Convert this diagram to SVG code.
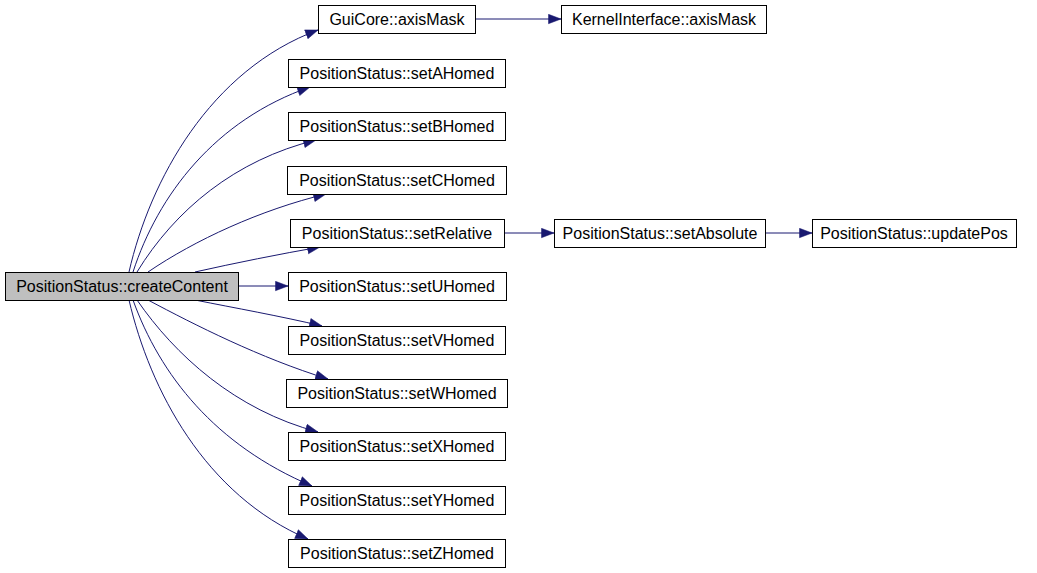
<svg xmlns="http://www.w3.org/2000/svg" width="1037" height="573" viewBox="0 0 1037 573">
<defs>
<marker id="arr" markerWidth="14" markerHeight="11" refX="13" refY="5.5" orient="auto" markerUnits="userSpaceOnUse">
<path d="M0.5,0.8 L13,5.5 L0.5,10.2 z" fill="#191970" stroke="#191970" stroke-width="0.5"/>
</marker>
<style>
.n rect{fill:#ffffff;stroke:#000000;stroke-width:1}
.n text{font-family:"Liberation Sans",Arial,sans-serif;font-size:16px;fill:#000000;text-anchor:middle}
.e path{fill:none;stroke:#191970;stroke-width:1;marker-end:url(#arr)}
</style>
</defs>
<rect width="1037" height="573" fill="#ffffff"/>
<g class="e" id="connectors">
<path d="M129,272 C150,180 210,70 318,30"/>
<path d="M133,272 C158,195 215,120 310,87"/>
<path d="M137,272 C175,210 235,160 316,140"/>
<path d="M148,272 C195,240 260,210 326,194"/>
<path d="M195,272 C235,263 280,254 320,247"/>
<path d="M239,286 L288,286"/>
<path d="M195,300 C235,308 280,316 322,326"/>
<path d="M148,300 C195,325 260,358 328,379"/>
<path d="M137,300 C175,355 235,410 318,432"/>
<path d="M133,300 C160,375 215,445 312,486"/>
<path d="M129,300 C150,390 205,495 308,539"/>
<path d="M504,233 L554,233"/>
<path d="M766,233 L812,233"/>
<path d="M476,19 L561,19"/>
</g>
<g class="n" id="createContent"><rect x="5.5" y="272.5" width="233" height="28" style="fill:#bfbfbf"/><text x="122" y="291.5">PositionStatus::createContent</text></g>
<g class="n" id="guiAxisMask"><rect x="318.5" y="5.5" width="157" height="28"/><text x="397" y="24.5">GuiCore::axisMask</text></g>
<g class="n" id="kernelAxisMask"><rect x="561.5" y="5.5" width="205" height="28"/><text x="664" y="24.5">KernelInterface::axisMask</text></g>
<g class="n" id="setAHomed"><rect x="288.5" y="59.5" width="217" height="28"/><text x="397" y="78.5">PositionStatus::setAHomed</text></g>
<g class="n" id="setBHomed"><rect x="288.5" y="112.5" width="217" height="28"/><text x="397" y="131.5">PositionStatus::setBHomed</text></g>
<g class="n" id="setCHomed"><rect x="287.5" y="166.5" width="219" height="28"/><text x="397" y="185.5">PositionStatus::setCHomed</text></g>
<g class="n" id="setRelative"><rect x="290.5" y="219.5" width="214" height="28"/><text x="397" y="238.5">PositionStatus::setRelative</text></g>
<g class="n" id="setAbsolute"><rect x="554.5" y="219.5" width="211" height="28"/><text x="660" y="238.5">PositionStatus::setAbsolute</text></g>
<g class="n" id="updatePos"><rect x="812.5" y="219.5" width="204" height="28"/><text x="914" y="238.5">PositionStatus::updatePos</text></g>
<g class="n" id="setUHomed"><rect x="288.5" y="272.5" width="218" height="28"/><text x="397" y="291.5">PositionStatus::setUHomed</text></g>
<g class="n" id="setVHomed"><rect x="288.5" y="326.5" width="217" height="28"/><text x="397" y="345.5">PositionStatus::setVHomed</text></g>
<g class="n" id="setWHomed"><rect x="286.5" y="379.5" width="221" height="28"/><text x="397" y="398.5">PositionStatus::setWHomed</text></g>
<g class="n" id="setXHomed"><rect x="288.5" y="432.5" width="217" height="28"/><text x="397" y="451.5">PositionStatus::setXHomed</text></g>
<g class="n" id="setYHomed"><rect x="288.5" y="486.5" width="217" height="28"/><text x="397" y="505.5">PositionStatus::setYHomed</text></g>
<g class="n" id="setZHomed"><rect x="288.5" y="539.5" width="217" height="28"/><text x="397" y="558.5">PositionStatus::setZHomed</text></g>
</svg>
